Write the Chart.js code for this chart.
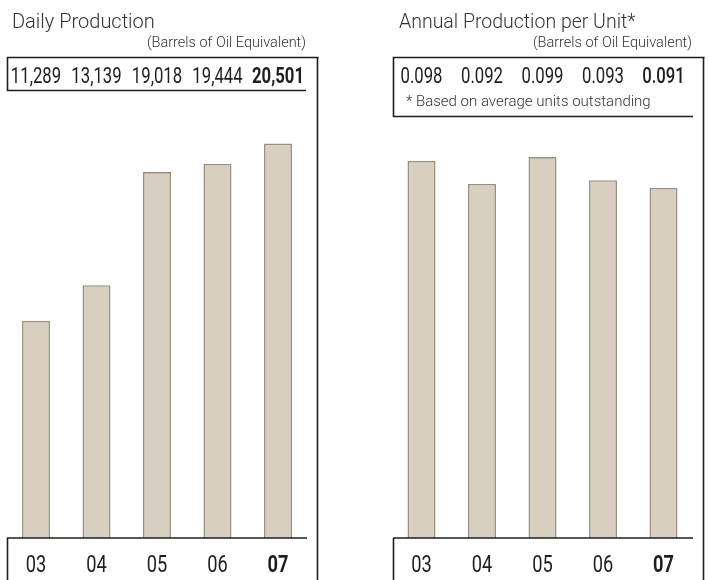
<!DOCTYPE html>
<html>
<head>
<meta charset="utf-8">
<script src="https://cdn.jsdelivr.net/npm/chart.js@4.4.0/dist/chart.umd.min.js"></script>
<style>
  html, body { margin: 0; padding: 0; background: #ffffff; }
  #wrap { position: relative; width: 709px; height: 580px; }
  .panel { position: absolute; top: 0; height: 580px; }
</style>
</head>
<body>
<div id="wrap">
  <div class="panel" style="left:0; width:354px;"><canvas id="daily" width="354" height="580"></canvas></div>
  <div class="panel" style="left:354px; width:355px;"><canvas id="perUnit" width="355" height="580"></canvas></div>
</div>
<script>
// Fiscal years shown along the bottom of both panels
const years = ['03', '04', '05', '06', '07'];

// Daily production, barrels of oil equivalent
const dailyProduction = [11289, 13139, 19018, 19444, 20501];

// Annual production per unit, barrels of oil equivalent
const perUnitProduction = [0.098, 0.092, 0.099, 0.093, 0.091];

const FACE = "Roboto, 'Liberation Sans', Arial, sans-serif";

const BAR_FILL = '#d8cfc0';
const BAR_EDGE = '#9a9080';
const INK = '#1e1e1e';
const GREY = '#333333';

// Text squeezed horizontally to get a condensed face
function narrowText(ctx, text, x, y, squeeze) {
  ctx.save();
  ctx.translate(x, y);
  ctx.scale(squeeze, 1);
  ctx.fillText(text, 0, 0);
  ctx.restore();
}

// Draws titles, the value row, the year row, the footnote and the frame lines of a panel
const panelFrame = {
  id: 'panelFrame',
  afterDraw(chart, args, opts) {
    const ctx = chart.ctx;
    const xs = chart.scales.x;
    const values = chart.data.datasets[0].data;
    const labels = chart.data.labels;
    const lastIdx = values.length - 1;
    ctx.save();

    // heading
    ctx.fillStyle = GREY;
    ctx.textBaseline = 'alphabetic';
    ctx.textAlign = 'left';
    ctx.font = '300 ' + opts.titleSize + 'px ' + FACE;
    ctx.fillText(opts.title, opts.titleX, 28);
    ctx.textAlign = 'right';
    ctx.font = '300 14.5px ' + FACE;
    ctx.fillText(opts.subtitle, opts.subtitleRight, 47);

    // value row, one figure above each bar
    ctx.fillStyle = INK;
    ctx.textAlign = 'center';
    values.forEach((v, i) => {
      ctx.font = (i === lastIdx ? opts.lastWeight : '400') + ' 22px ' + FACE;
      narrowText(ctx, opts.format(v), xs.getPixelForValue(i), 83, 0.76);
    });

    // year row under the bars
    labels.forEach((lab, i) => {
      ctx.font = (i === lastIdx ? '700' : '400') + ' 24px ' + FACE;
      narrowText(ctx, lab, xs.getPixelForValue(i), 572, 0.76);
    });

    // footnote
    if (opts.note) {
      ctx.fillStyle = GREY;
      ctx.textAlign = 'left';
      ctx.font = '300 15px ' + FACE;
      ctx.fillText(opts.note, opts.noteX, 106);
    }

    // frame
    ctx.strokeStyle = INK;
    ctx.lineWidth = 1.6;
    ctx.lineCap = 'butt';
    opts.lines.forEach(([x1, y1, x2, y2]) => {
      ctx.beginPath();
      ctx.moveTo(x1, y1);
      ctx.lineTo(x2, y2);
      ctx.stroke();
    });
    ctx.restore();
  }
};

function buildChart(id, values, max, padLeft, padRight, frame) {
  return new Chart(document.getElementById(id), {
    type: 'bar',
    data: {
      labels: years,
      datasets: [{
        data: values,
        backgroundColor: BAR_FILL,
        borderColor: BAR_EDGE,
        borderWidth: 1.6,
        barPercentage: 0.463,
        categoryPercentage: 1
      }]
    },
    options: {
      responsive: false,
      animation: false,
      layout: { padding: { left: padLeft, right: padRight, top: 57, bottom: 42 } },
      scales: {
        x: { display: false },
        y: { display: false, min: 0, max: max }
      },
      plugins: {
        legend: { display: false },
        tooltip: { enabled: false },
        panelFrame: frame
      }
    },
    plugins: [panelFrame]
  });
}

buildChart('daily', dailyProduction, 25000, 5.75, 45.75, {
  title: 'Daily Production',
  titleSize: 20,
  titleX: 12,
  subtitle: '(Barrels of Oil Equivalent)',
  subtitleRight: 306,
  format: (v) => v.toLocaleString('en-US'),
  lastWeight: '700',
  lines: [
    [7, 57.5, 318.5, 57.5],
    [317.5, 57, 317.5, 580],
    [7.5, 57, 7.5, 91],
    [7, 90.5, 306, 90.5],
    [7, 538, 307, 538],
    [7.5, 538, 7.5, 580]
  ]
});

buildChart('perUnit', perUnitProduction, 0.125, 37.25, 15.25, {
  title: 'Annual Production per Unit*',
  titleSize: 19.5,
  titleX: 45,
  subtitle: '(Barrels of Oil Equivalent)',
  subtitleRight: 338,
  format: (v) => v.toFixed(3),
  lastWeight: '500',
  note: '* Based on average units outstanding',
  noteX: 52,
  lines: [
    [39, 57.5, 350.5, 57.5],
    [349.5, 57, 349.5, 580],
    [39.5, 57, 39.5, 117],
    [39, 116.5, 339, 116.5],
    [39, 538, 339, 538],
    [39.5, 538, 39.5, 580]
  ]
});
</script>
</body>
</html>
